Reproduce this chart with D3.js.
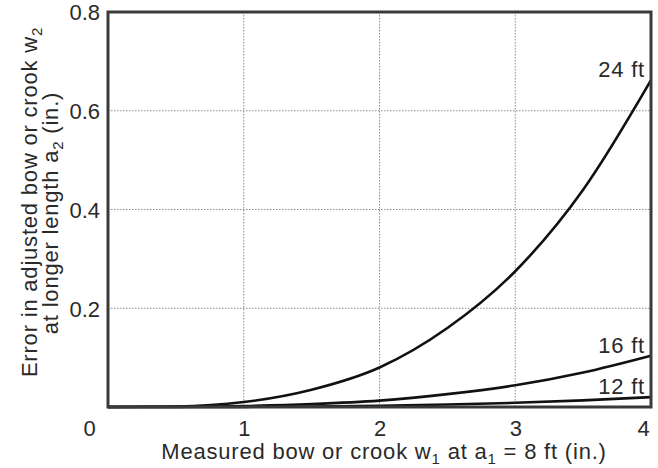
<!DOCTYPE html>
<html>
<head>
<meta charset="utf-8">
<script src="https://cdn.jsdelivr.net/npm/d3@7"></script>
<style>
  body { margin: 0; background: #fff; }
  text { font-family: "Liberation Sans", Arial, sans-serif; fill: #2a2a2a; }
</style>
</head>
<body>
<svg id="chart" width="658" height="468"></svg>
<script>

// measured bow w1 (in.)
var w1 = [0, 0.5, 1, 1.5, 2, 2.5, 3, 3.5, 4];

// error in adjusted bow (in.) for each longer length
var err24 = [0, 0.001, 0.010, 0.035, 0.080, 0.160, 0.275, 0.440, 0.662];
var err16 = [0, 0.0002, 0.002, 0.006, 0.013, 0.026, 0.044, 0.070, 0.104];
var err12 = [0, 0, 0.0003, 0.001, 0.0025, 0.005, 0.0085, 0.0135, 0.020];

var seriesNames = ["24 ft", "16 ft", "12 ft"];
var xTicks = [0, 1, 2, 3, 4];
var yTicks = [0.2, 0.4, 0.6, 0.8];

var margin = {top: 12, right: 7, bottom: 61, left: 108};
var width = 658 - margin.left - margin.right,
    height = 468 - margin.top - margin.bottom;

var svg = d3.select("#chart");
var g = svg.append("g")
    .attr("transform", "translate(" + margin.left + "," + margin.top + ")");

var x = d3.scaleLinear().domain([0, 4]).range([0, width]);
var y = d3.scaleLinear().domain([0, 0.8]).range([height, 0]);

// grid
g.append("g")
    .selectAll("line.vgrid")
    .data([1, 2, 3])
    .enter().append("line")
    .attr("x1", function(d){ return x(d); })
    .attr("x2", function(d){ return x(d); })
    .attr("y1", 0)
    .attr("y2", height)
    .attr("stroke", "#8c8c8c")
    .attr("stroke-dasharray", "1.5,1.5");

g.append("g")
    .selectAll("line.hgrid")
    .data([0.2, 0.4, 0.6])
    .enter().append("line")
    .attr("x1", 0)
    .attr("x2", width)
    .attr("y1", function(d){ return y(d); })
    .attr("y2", function(d){ return y(d); })
    .attr("stroke", "#8c8c8c")
    .attr("stroke-dasharray", "1.5,1.5");

// axes (labels only, frame drawn separately)
var xAxis = g.append("g")
    .attr("transform", "translate(0," + height + ")")
    .call(d3.axisBottom(x).tickValues(xTicks).tickSize(0).tickPadding(0).tickFormat(d3.format("d")));
xAxis.select(".domain").remove();
xAxis.selectAll("text")
    .attr("y", 29)
    .attr("dy", 0)
    .style("font-size", "22px")
    .attr("dx", function(d){ return d === 0 ? -19 : (d === 4 ? -8 : 0); });

var yAxis = g.append("g")
    .call(d3.axisLeft(y).tickValues(yTicks).tickSize(0).tickPadding(8).tickFormat(d3.format(".1f")));
yAxis.select(".domain").remove();
yAxis.selectAll("text")
    .style("font-size", "22px")
    .attr("dy", "0.36em");

// curves
var line = d3.line()
    .x(function(d){ return x(d[0]); })
    .y(function(d){ return y(d[1]); })
    .curve(d3.curveMonotoneX);

var series = [err24, err16, err12].map(function(vals, i){
    return {name: seriesNames[i], pts: w1.map(function(v, j){ return [v, vals[j]]; })};
});

g.selectAll("path.curve")
    .data(series)
    .enter().append("path")
    .attr("class", "curve")
    .attr("d", function(d){ return line(d.pts); })
    .attr("fill", "none")
    .attr("stroke", "#111")
    .attr("stroke-width", 2.6);

g.selectAll("text.clabel")
    .data(series)
    .enter().append("text")
    .attr("class", "clabel")
    .attr("x", x(4) - 6)
    .attr("y", function(d){ return y(d.pts[d.pts.length - 1][1]) - 3; })
    .attr("text-anchor", "end")
    .style("font-size", "22px")
    .style("letter-spacing", "0.8px")
    .text(function(d){ return d.name; });

// frame
g.append("rect")
    .attr("x", 0)
    .attr("y", 0)
    .attr("width", width)
    .attr("height", height)
    .attr("fill", "none")
    .attr("stroke", "#3a3a3a")
    .attr("stroke-width", 3);

// x title
var xt = svg.append("text")
    .attr("x", 384)
    .attr("y", 459)
    .attr("text-anchor", "middle")
    .style("font-size", "22px")
    .style("letter-spacing", "0.8px");
xt.append("tspan").text("Measured bow or crook w");
xt.append("tspan").attr("dy", 5).style("font-size", "15px").text("1");
xt.append("tspan").attr("dy", -5).text(" at a");
xt.append("tspan").attr("dy", 5).style("font-size", "15px").text("1");
xt.append("tspan").attr("dy", -5).text(" = 8 ft (in.)");

// y title, two lines
var yt1 = svg.append("text")
    .attr("transform", "translate(37,202) rotate(-90)")
    .attr("text-anchor", "middle")
    .style("font-size", "22px")
    .style("letter-spacing", "0.8px");
yt1.append("tspan").text("Error in adjusted bow or crook w");
yt1.append("tspan").attr("dy", 5).style("font-size", "15px").text("2");

var yt2 = svg.append("text")
    .attr("transform", "translate(58,213) rotate(-90)")
    .attr("text-anchor", "middle")
    .style("font-size", "22px")
    .style("letter-spacing", "0.8px");
yt2.append("tspan").text("at longer length a");
yt2.append("tspan").attr("dy", 5).style("font-size", "15px").text("2");
yt2.append("tspan").attr("dy", -5).text(" (in.)");

</script>
</body>
</html>
